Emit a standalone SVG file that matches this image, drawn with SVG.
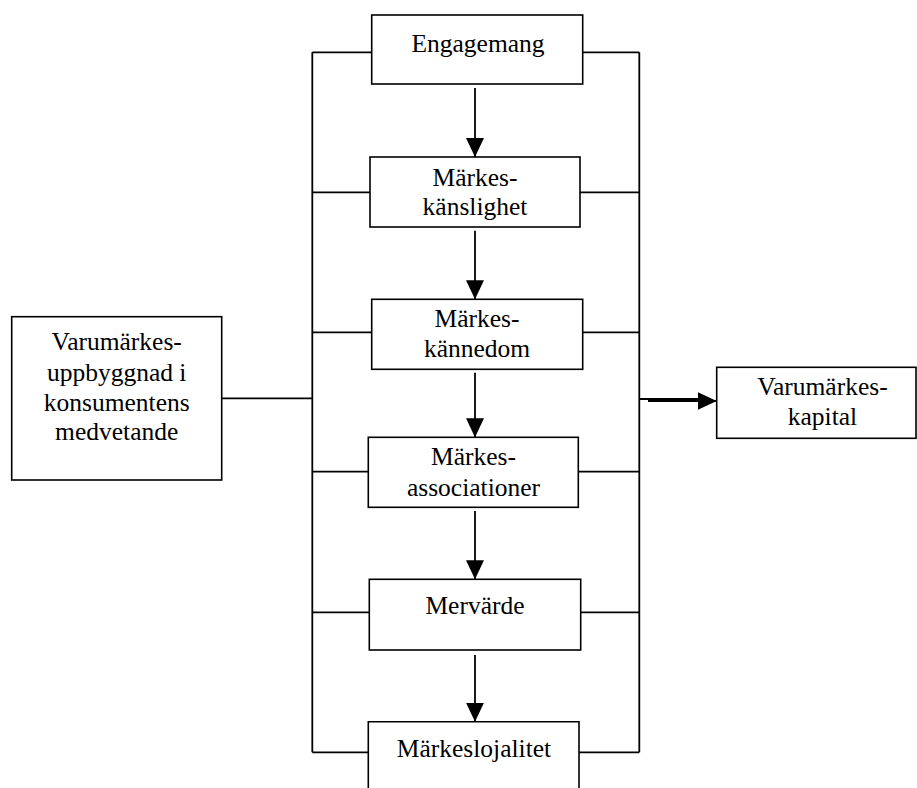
<svg xmlns="http://www.w3.org/2000/svg" width="917" height="788" viewBox="0 0 917 788">
<defs>
<marker id="ah" markerWidth="19" markerHeight="18" refX="19" refY="9" orient="auto" markerUnits="userSpaceOnUse">
<path d="M0,0 L19,9 L0,18 Z" fill="#000"/>
</marker>
<style>
.box{fill:#fff;stroke:#000;stroke-width:1.6}
.ln{fill:none;stroke:#000;stroke-width:1.8}
text{font-family:"Liberation Serif","Times New Roman",serif;font-size:25.5px;fill:#000;text-anchor:middle}
</style>
</defs>
<rect width="917" height="788" fill="#fff"/>
<g id="connectors">
<path class="ln" d="M312.3,52.3 V752.3 M639.3,52.3 V752.3"/>
<path class="ln" d="M312.3,52.3 H372 M582,52.3 H639.3"/>
<path class="ln" d="M312.3,192.3 H370 M580,192.3 H639.3"/>
<path class="ln" d="M312.3,332.3 H372 M582,332.3 H639.3"/>
<path class="ln" d="M312.3,471.7 H368 M578,471.7 H639.3"/>
<path class="ln" d="M312.3,612.3 H369 M580,612.3 H639.3"/>
<path class="ln" d="M312.3,752.3 H368 M579,752.3 H639.3"/>
<path class="ln" d="M221.7,398.3 H312.3"/>
<path class="ln" d="M639.3,399 H700"/>
<path class="ln" d="M648,401 H716.7" marker-end="url(#ah)"/>
<path class="ln" d="M475,88 V157" marker-end="url(#ah)"/>
<path class="ln" d="M475,230.7 V299.3" marker-end="url(#ah)"/>
<path class="ln" d="M475,372.7 V437.3" marker-end="url(#ah)"/>
<path class="ln" d="M475,511 V579.3" marker-end="url(#ah)"/>
<path class="ln" d="M475,655 V721.7" marker-end="url(#ah)"/>
</g>
<g id="engagemang">
<rect class="box" x="371.7" y="15" width="211" height="69"/>
<text x="478" y="52">Engagemang</text>
</g>
<g id="kanslighet">
<rect class="box" x="370" y="157" width="210" height="70"/>
<text x="475" y="185.7">Märkes-</text>
<text x="475" y="215">känslighet</text>
</g>
<g id="kannedom">
<rect class="box" x="371.7" y="299.3" width="211" height="70"/>
<text x="477" y="327.3">Märkes-</text>
<text x="477" y="356.7">kännedom</text>
</g>
<g id="associationer">
<rect class="box" x="368.3" y="437.3" width="210" height="70"/>
<text x="473.5" y="465">Märkes-</text>
<text x="473.5" y="496">associationer</text>
</g>
<g id="mervarde">
<rect class="box" x="369.3" y="579.3" width="211.4" height="70.7"/>
<text x="475" y="614.3">Mervärde</text>
</g>
<g id="lojalitet">
<path class="box" d="M368.3,790 V721.7 H579 V790"/>
<text x="474" y="756.7">Märkeslojalitet</text>
</g>
<g id="uppbyggnad">
<rect class="box" x="11.7" y="316.7" width="210" height="163.3"/>
<text x="116.7" y="350">Varumärkes-</text>
<text x="116.7" y="381">uppbyggnad i</text>
<text x="116.7" y="410.7">konsumentens</text>
<text x="116.7" y="440">medvetande</text>
</g>
<g id="kapital">
<rect class="box" x="716.7" y="367.3" width="199.3" height="71"/>
<text x="822.5" y="395">Varumärkes-</text>
<text x="822.5" y="425">kapital</text>
</g>
</svg>
